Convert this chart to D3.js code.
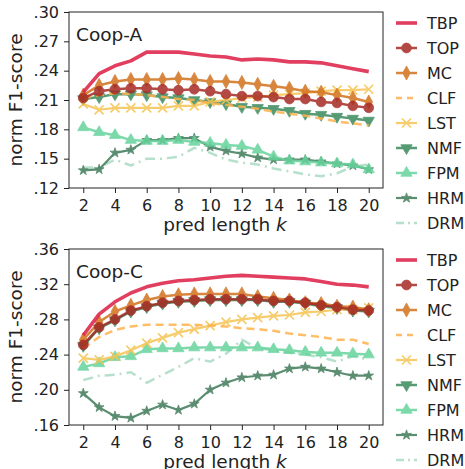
<!DOCTYPE html>
<html>
<head>
<meta charset="utf-8">
<script src="https://cdn.jsdelivr.net/npm/d3@7"></script>
<style>
  body { margin: 0; background: #fff; }
  text { font-family: "DejaVu Sans", sans-serif; fill: #222; }
</style>
</head>
<body>
<div id="chart"></div>
<script>
// pred length k
const ks = [2, 3, 4, 5, 6, 7, 8, 9, 10, 11, 12, 13, 14, 15, 16, 17, 18, 19, 20]
const seriesNames = ['TBP', 'TOP', 'MC', 'CLF', 'LST', 'NMF', 'FPM', 'HRM', 'DRM']

// Coop-A
const coopA_TBP = [0.218, 0.237, 0.245, 0.250, 0.259, 0.259, 0.259, 0.257, 0.255, 0.254, 0.251, 0.252, 0.251, 0.249, 0.249, 0.248, 0.245, 0.242, 0.239]
const coopA_TOP = [0.212, 0.219, 0.221, 0.222, 0.222, 0.221, 0.220, 0.221, 0.219, 0.216, 0.214, 0.214, 0.213, 0.211, 0.211, 0.208, 0.207, 0.204, 0.202]
const coopA_MC = [0.215, 0.225, 0.229, 0.231, 0.231, 0.231, 0.232, 0.231, 0.229, 0.229, 0.228, 0.226, 0.224, 0.222, 0.219, 0.218, 0.215, 0.212, 0.208]
const coopA_CLF = [0.212, 0.215, 0.217, 0.216, 0.215, 0.213, 0.211, 0.210, 0.207, 0.205, 0.203, 0.201, 0.198, 0.196, 0.194, 0.191, 0.188, 0.186, 0.184]
const coopA_LST = [0.206, 0.200, 0.202, 0.202, 0.202, 0.202, 0.204, 0.204, 0.208, 0.210, 0.212, 0.213, 0.215, 0.216, 0.217, 0.219, 0.220, 0.220, 0.221]
const coopA_NMF = [0.211, 0.213, 0.216, 0.216, 0.215, 0.213, 0.212, 0.210, 0.208, 0.206, 0.203, 0.202, 0.201, 0.199, 0.196, 0.195, 0.193, 0.191, 0.189]
const coopA_FPM = [0.182, 0.177, 0.174, 0.169, 0.168, 0.168, 0.169, 0.167, 0.166, 0.164, 0.163, 0.159, 0.152, 0.148, 0.147, 0.146, 0.145, 0.144, 0.139]
const coopA_HRM = [0.138, 0.139, 0.156, 0.159, 0.169, 0.169, 0.171, 0.171, 0.162, 0.158, 0.155, 0.151, 0.149, 0.149, 0.149, 0.147, 0.145, 0.143, 0.139]
const coopA_DRM = [0.141, 0.141, 0.149, 0.143, 0.150, 0.150, 0.152, 0.161, 0.156, 0.149, 0.146, 0.144, 0.140, 0.137, 0.134, 0.132, 0.135, 0.142, 0.144]

// Coop-C
const coopC_TBP = [0.262, 0.286, 0.300, 0.310, 0.317, 0.321, 0.324, 0.325, 0.327, 0.329, 0.330, 0.329, 0.328, 0.327, 0.326, 0.323, 0.320, 0.319, 0.317]
const coopC_TOP = [0.251, 0.271, 0.280, 0.290, 0.295, 0.299, 0.301, 0.302, 0.303, 0.303, 0.303, 0.303, 0.301, 0.301, 0.299, 0.296, 0.294, 0.291, 0.290]
const coopC_MC = [0.257, 0.277, 0.289, 0.296, 0.302, 0.306, 0.308, 0.309, 0.309, 0.309, 0.309, 0.306, 0.304, 0.302, 0.299, 0.298, 0.295, 0.294, 0.291]
const coopC_CLF = [0.247, 0.260, 0.268, 0.272, 0.274, 0.274, 0.274, 0.274, 0.273, 0.272, 0.270, 0.269, 0.267, 0.264, 0.262, 0.260, 0.257, 0.257, 0.252]
const coopC_LST = [0.236, 0.234, 0.238, 0.245, 0.253, 0.259, 0.265, 0.269, 0.273, 0.277, 0.280, 0.282, 0.284, 0.285, 0.288, 0.289, 0.291, 0.291, 0.293]
const coopC_NMF = [0.250, 0.270, 0.279, 0.289, 0.294, 0.298, 0.300, 0.301, 0.302, 0.302, 0.302, 0.302, 0.300, 0.300, 0.298, 0.295, 0.293, 0.290, 0.289]
const coopC_FPM = [0.226, 0.230, 0.237, 0.238, 0.246, 0.247, 0.247, 0.248, 0.248, 0.248, 0.248, 0.248, 0.246, 0.245, 0.243, 0.242, 0.242, 0.241, 0.240]
const coopC_HRM = [0.196, 0.180, 0.170, 0.168, 0.176, 0.183, 0.177, 0.184, 0.200, 0.208, 0.214, 0.216, 0.217, 0.224, 0.226, 0.224, 0.220, 0.216, 0.216]
const coopC_DRM = [0.211, 0.216, 0.217, 0.220, 0.208, 0.217, 0.226, 0.236, 0.232, 0.241, 0.257, 0.247, 0.245, 0.242, 0.240, 0.237, 0.232, 0.238, 0.234]

const yTicksA = [0.12, 0.15, 0.18, 0.21, 0.24, 0.27, 0.30]
const yTicksC = [0.16, 0.20, 0.24, 0.28, 0.32, 0.36]
const xTicks = [2, 4, 6, 8, 10, 12, 14, 16, 18, 20]

const styles = {
  TBP: { color: '#dc1c44', width: 3.6, dash: null, marker: null },
  TOP: { color: '#a52a24', width: 2.5, dash: null, marker: 'circle' },
  MC:  { color: '#d2711c', width: 2.5, dash: null, marker: 'diamond' },
  CLF: { color: '#ffb14e', width: 2.5, dash: '8,5', marker: null },
  LST: { color: '#f5c453', width: 2.2, dash: null, marker: 'x' },
  NMF: { color: '#3a8a5c', width: 2.5, dash: null, marker: 'tridown' },
  FPM: { color: '#66d39c', width: 2.5, dash: null, marker: 'triup' },
  HRM: { color: '#3f7a58', width: 2.2, dash: null, marker: 'star' },
  DRM: { color: '#a9dbc3', width: 2.5, dash: '10,5,2,5', marker: null }
}

const panels = [
  { label: 'Coop-A', top: 12, ticks: yTicksA, domain: [0.12, 0.30],
    data: { TBP: coopA_TBP, TOP: coopA_TOP, MC: coopA_MC, CLF: coopA_CLF, LST: coopA_LST, NMF: coopA_NMF, FPM: coopA_FPM, HRM: coopA_HRM, DRM: coopA_DRM } },
  { label: 'Coop-C', top: 249, ticks: yTicksC, domain: [0.16, 0.36],
    data: { TBP: coopC_TBP, TOP: coopC_TOP, MC: coopC_MC, CLF: coopC_CLF, LST: coopC_LST, NMF: coopC_NMF, FPM: coopC_FPM, HRM: coopC_HRM, DRM: coopC_DRM } }
]

const W = 465, H = 469
const left = 69, right = 383, ph = 176

const svg = d3.select('#chart').append('svg').attr('width', W).attr('height', H)

const x = d3.scaleLinear().domain([1.1, 20.9]).range([left, right])

function markerPath(type) {
  if (type === 'circle') return d3.symbol(d3.symbolCircle, 75)()
  if (type === 'diamond') return 'M0,-7L3.8,0L0,7L-3.8,0Z'
  if (type === 'x') return 'M-4.5,-4.5L4.5,4.5M-4.5,4.5L4.5,-4.5'
  if (type === 'triup') return d3.symbol(d3.symbolTriangle, 55)()
  if (type === 'tridown') return d3.symbol(d3.symbolTriangle, 55)()
  if (type === 'star') return d3.symbol(d3.symbolStar, 30)()
  return null
}

function drawMarker(g, type, color, cx, cy) {
  const p = g.append('path').attr('d', markerPath(type))
    .attr('transform', `translate(${cx},${cy})` + (type === 'tridown' ? ' rotate(180)' : ''))
  if (type === 'x') p.attr('fill', 'none').attr('stroke', color).attr('stroke-width', 1.7)
  else p.attr('fill', color).attr('stroke', color).attr('stroke-width', 0.8)
}

function tickFmt(v) {
  return d3.format('.2f')(v).replace(/^0/, '')
}

panels.forEach(p => {
  const y = d3.scaleLinear().domain(p.domain).range([p.top + ph, p.top])
  const g = svg.append('g')

  // series, drawn last-to-first so the leading methods sit on top
  const line = d3.line().x((d, i) => x(ks[i])).y(d => y(d))
  seriesNames.slice().reverse().forEach(name => {
    const st = styles[name]
    const vals = p.data[name]
    const sg = g.append('g').attr('opacity', 0.85)
    sg.append('path').datum(vals).attr('d', line)
      .attr('fill', 'none').attr('stroke', st.color).attr('stroke-width', st.width)
      .attr('stroke-dasharray', st.dash).attr('stroke-linejoin', 'round')
    if (st.marker) vals.forEach((v, i) => drawMarker(sg, st.marker, st.color, x(ks[i]), y(v)))
  })

  // frame
  g.append('rect').attr('x', left).attr('y', p.top).attr('width', right - left).attr('height', ph)
    .attr('fill', 'none').attr('stroke', '#222').attr('stroke-width', 1)

  // axes
  const ax = g.append('g').attr('transform', `translate(0,${p.top + ph})`)
    .call(d3.axisBottom(x).tickValues(xTicks).tickSize(5).tickPadding(7).tickFormat(d3.format('d')))
  const ay = g.append('g').attr('transform', `translate(${left},0)`)
    .call(d3.axisLeft(y).tickValues(p.ticks).tickSize(5).tickPadding(5).tickFormat(tickFmt))
  ;[ax, ay].forEach(a => {
    a.select('.domain').remove()
    a.selectAll('line').attr('stroke', '#222')
    a.selectAll('text').style('font-size', '16px').attr('fill', '#222')
      .style('font-family', '"DejaVu Sans", sans-serif')
  })

  // labels
  g.append('text').attr('x', 76).attr('y', p.top + 29).style('font-size', '18.5px').text(p.label)
  const xl = g.append('text').attr('x', (left + right) / 2 - 1).attr('y', p.top + ph + 43)
    .attr('text-anchor', 'middle').style('font-size', '18.5px')
  xl.append('tspan').text('pred length ')
  xl.append('tspan').style('font-style', 'italic').text('k')
  g.append('text').attr('transform', `translate(22,${p.top + ph / 2}) rotate(-90)`)
    .attr('text-anchor', 'middle').style('font-size', '18.5px').text('norm F1-score')

  // legend
  const lg = g.append('g').attr('transform', `translate(396,${p.top + 11})`)
  seriesNames.forEach((name, i) => {
    const st = styles[name]
    const row = lg.append('g').attr('transform', `translate(0,${i * 25})`).attr('opacity', 0.85)
    row.append('line').attr('x1', 0).attr('x2', 21).attr('y1', 0).attr('y2', 0)
      .attr('stroke', st.color).attr('stroke-width', st.width)
      .attr('stroke-dasharray', name === 'CLF' ? '6,5' : name === 'DRM' ? '8,4,2,4' : null)
    if (st.marker) drawMarker(row, st.marker, st.color, 10.5, 0)
    lg.append('text').attr('x', 31).attr('y', i * 25 + 6).style('font-size', '16px').text(name)
  })
})
</script>
</body>
</html>
